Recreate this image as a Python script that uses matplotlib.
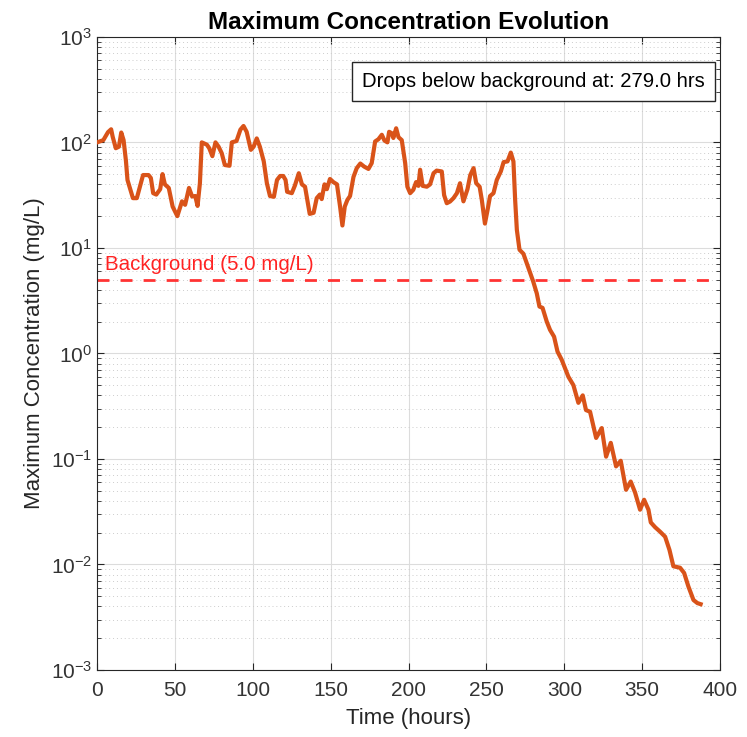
import matplotlib.pyplot as plt
import numpy as np

# values
time_hrs = [0, 4, 7, 9, 10, 12, 14, 15.5, 17, 18.5, 19.5, 21, 23, 25.5, 27.5, 29.5, 33, 34.5,
            36, 38, 40.5, 42, 43.5, 46, 48.5, 51.5, 54.5, 56.5, 59, 61, 63, 64.5, 66, 67.2,
            70.5, 72, 74, 76, 78, 80, 82, 85, 86.5, 89.5, 92, 94, 96, 98.7, 100.5, 102.5,
            104.5, 107, 109, 111, 113.5, 115.5, 117.5, 119.5, 121, 122, 125, 127, 129.5,
            131.5, 133.5, 136.5, 139, 141, 143, 144.2, 146, 147.5, 149.5, 151.7, 154, 156,
            157.5, 159, 160.7, 162.4, 164.6, 166.7, 169, 171.4, 174.2, 176.3, 178.5, 180.6,
            182.8, 184.5, 186.4, 187.5, 189.2, 190.2, 192, 193.5, 195.6, 197.8, 199.2, 201,
            203, 204.8, 206.3, 207.4, 209, 211.7, 213.8, 216, 218, 221.3, 222.8, 224.5,
            226.6, 228.8, 231, 233, 235.2, 237.8, 239.6, 241.7, 243.4, 245.6, 247, 249,
            250.6, 252.3, 254.5, 256.6, 259.2, 261, 263.5, 265.6, 267.3, 268.4, 269.5,
            271.2, 273.7, 277, 280, 282.3, 284, 286, 288.7, 290.8, 293.4, 295.6, 298.3,
            302.6, 305.8, 309, 311.8, 313.9, 316.5, 320.4, 324, 326.8, 329.8, 333.2, 336.2,
            339.6, 342.6, 345.4, 348.6, 351.2, 354, 355.5, 358.3, 361.5, 364.7, 367.5, 370,
            374.3, 376.9, 379.6, 382.9, 385.4, 387.5]
max_conc = [100, 105, 125, 133, 113, 88, 91, 124, 105, 67, 44, 37, 29.6, 29.6, 38, 49, 49, 46,
            33, 32, 36, 50, 40, 37, 24.6, 20, 27.6, 25.6, 37, 30.7, 31, 25, 41, 100,
            95, 88, 74, 100, 91, 79, 61, 60, 100, 103, 132, 143, 126, 85, 91, 109,
            91, 66, 41, 31, 30.5, 44, 48, 48, 44, 34, 33, 39, 51,
            40, 38, 21, 21.5, 29.6, 32, 29, 40, 36, 45, 42, 40, 24.6,
            16.3, 24.6, 28.5, 31, 47, 57, 63, 59, 56, 63.5, 102, 107,
            118, 104, 100, 126, 122, 110, 136, 112, 105, 63.5, 38, 33,
            35.5, 42, 38.7, 55, 38.7, 38, 40, 51, 54, 53, 31.6, 26.5,
            27.5, 29.6, 33, 41, 27.6, 36, 49, 57, 41, 38, 28.5, 17,
            22.5, 31, 33, 44, 53, 65, 66, 80, 66, 28.5, 14.8,
            9.6, 8.8, 6.4, 4.8, 3.7, 2.78, 2.7, 2.0, 1.67, 1.44, 1.04, 0.87,
            0.60, 0.50, 0.34, 0.40, 0.29, 0.28, 0.158, 0.196, 0.105, 0.142, 0.085, 0.096,
            0.051, 0.061, 0.048, 0.033, 0.041, 0.033, 0.025, 0.0225, 0.0204, 0.0183, 0.0137, 0.0096,
            0.0093, 0.0083, 0.0062, 0.0046, 0.0043, 0.0042]
background = 5.0
drop_time = 279.0

plt.rcParams['font.family'] = ['Liberation Sans', 'DejaVu Sans']
plt.rcParams['mathtext.fontset'] = 'custom'
plt.rcParams['mathtext.rm'] = 'Liberation Sans'
plt.rcParams['mathtext.it'] = 'Liberation Sans:italic'

fig = plt.figure(figsize=(7.47, 7.37), dpi=100)
ax = fig.add_axes([0.13, 0.091, 0.834, 0.859])

ax.plot(time_hrs, max_conc, color="#D95319", linewidth=3, zorder=3)
ax.axhline(background, color="#FF3333", linestyle=(0, (4.3, 4)), linewidth=2, zorder=2)
ax.text(5, background * 1.12, f"Background ({background:.1f} mg/L)", color="#FF2222",
        fontsize=14.8, va="bottom", ha="left")

ax.set_yscale("log")
ax.set_xlim(0, 400)
ax.set_ylim(1e-3, 1e3)
ax.set_xticks(range(0, 401, 50))

ax.grid(True, which="major", color="#dcdcdc", linewidth=0.8)
ax.grid(True, which="minor", axis="y", color="#cccccc", linestyle=(0, (1, 3)), linewidth=0.7)
ax.set_axisbelow(True)

ax.tick_params(which="both", direction="in", top=True, right=True, color="#262626",
               labelcolor="#333333", labelsize=15)
ax.tick_params(axis="x", pad=8)
ax.tick_params(which="major", length=5)
ax.tick_params(which="minor", length=3)
for s in ax.spines.values():
    s.set_color("#262626")

ax.set_xlabel("Time (hours)", fontsize=16, color="#262626", labelpad=6)
ax.set_ylabel("Maximum Concentration (mg/L)", fontsize=16, color="#262626")
ax.set_title("Maximum Concentration Evolution", fontsize=17.5, fontweight="bold", pad=6)

ax.text(0.976, 0.945, f"Drops below background at: {drop_time:.1f} hrs", transform=ax.transAxes,
        ha="right", va="top", fontsize=14.6,
        bbox=dict(boxstyle="square,pad=0.5", facecolor="white", edgecolor="#262626", linewidth=1))

fig.savefig("out.png", dpi=100)
